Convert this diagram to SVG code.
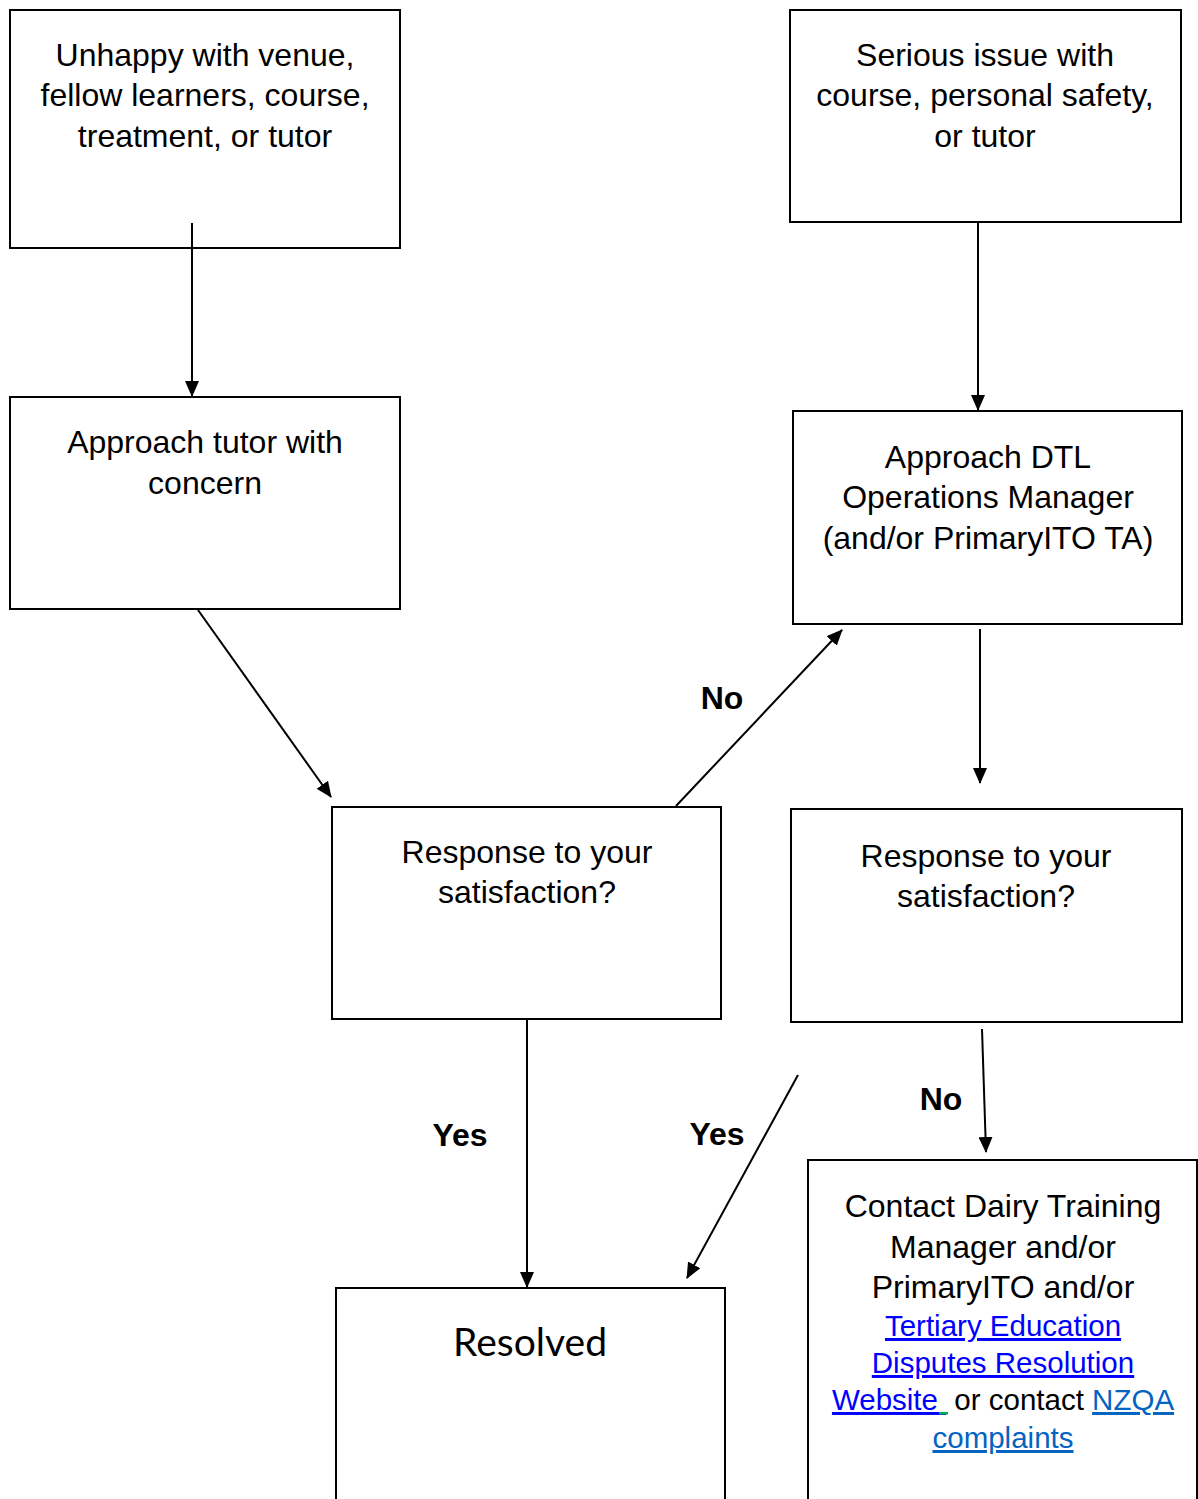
<svg xmlns="http://www.w3.org/2000/svg" width="1198" height="1499" viewBox="0 0 1198 1499">
<style>
.box{fill:#fff;stroke:#000;stroke-width:2}
.t{font-family:"Liberation Sans",Arial,sans-serif;font-size:32px;fill:#000;text-anchor:middle}
.s{font-size:29.5px}
.lbl{font-family:"Liberation Sans",Arial,sans-serif;font-size:32px;font-weight:bold;fill:#000;text-anchor:middle}
.ln{stroke:#000;stroke-width:2;fill:none;marker-end:url(#ah)}
.lk{fill:#0000ff;text-decoration:underline}
.lk2{fill:#0563c1;text-decoration:underline}
</style>
<defs>
<marker id="ah" markerUnits="userSpaceOnUse" markerWidth="16" markerHeight="14" refX="15" refY="7" orient="auto">
<path d="M0,0 L16,7 L0,14 z" fill="#000"/>
</marker>
</defs>
<rect width="1198" height="1499" fill="#fff"/>
<g id="n1"><rect class="box" x="10" y="10" width="390" height="238"/>
<text class="t"><tspan x="205" y="66">Unhappy with venue,</tspan><tspan x="205" y="106">fellow learners, course,</tspan><tspan x="205" y="147">treatment, or tutor</tspan></text></g>
<g id="n2"><rect class="box" x="790" y="10" width="391" height="212"/>
<text class="t"><tspan x="985" y="66">Serious issue with</tspan><tspan x="985" y="106">course, personal safety,</tspan><tspan x="985" y="147">or tutor</tspan></text></g>
<g id="n3"><rect class="box" x="10" y="397" width="390" height="212"/>
<text class="t"><tspan x="205" y="453">Approach tutor with</tspan><tspan x="205" y="494">concern</tspan></text></g>
<g id="n4"><rect class="box" x="793" y="411" width="389" height="213"/>
<text class="t"><tspan x="988" y="468">Approach DTL</tspan><tspan x="988" y="508">Operations Manager</tspan><tspan x="988" y="549">(and/or PrimaryITO TA)</tspan></text></g>
<g id="n5"><rect class="box" x="332" y="807" width="389" height="212"/>
<text class="t"><tspan x="527" y="863">Response to your</tspan><tspan x="527" y="903">satisfaction?</tspan></text></g>
<g id="n6"><rect class="box" x="791" y="809" width="391" height="213"/>
<text class="t"><tspan x="986" y="867">Response to your</tspan><tspan x="986" y="907">satisfaction?</tspan></text></g>
<g id="n7"><rect class="box" x="336" y="1288" width="389" height="230"/>
<text x="530" y="1356" style="font-family:Lato,'Open Sans',sans-serif;font-size:39px;text-anchor:middle;fill:#000">Resolved</text></g>
<g id="n8"><rect class="box" x="808" y="1160" width="389" height="360"/>
<text class="t" xml:space="preserve"><tspan x="1003" y="1217">Contact Dairy Training</tspan><tspan x="1003" y="1258">Manager and/or</tspan><tspan x="1003" y="1298">PrimaryITO and/or</tspan><tspan x="1003" y="1336" class="lk s">Tertiary Education</tspan><tspan x="1003" y="1373" class="lk s">Disputes Resolution</tspan><tspan x="1003" y="1410" class="s"><tspan class="lk">Website </tspan> or contact <tspan class="lk2">NZQA</tspan></tspan><tspan x="1003" y="1448" class="lk2 s">complaints</tspan></text>
<rect x="939" y="1412" width="9" height="2.5" fill="#00b050"/></g>
<g id="connectors">
<line class="ln" x1="192" y1="223" x2="192" y2="396"/>
<line class="ln" x1="198" y1="610" x2="331" y2="797"/>
<line class="ln" x1="676" y1="806" x2="842" y2="630"/>
<line class="ln" x1="978" y1="222" x2="978" y2="410"/>
<line class="ln" x1="980" y1="629" x2="980" y2="783"/>
<line class="ln" x1="527" y1="1020" x2="527" y2="1287"/>
<line class="ln" x1="798" y1="1075" x2="687" y2="1278"/>
<line class="ln" x1="982" y1="1029" x2="986" y2="1152"/>
<text class="lbl" x="722" y="709">No</text>
<text class="lbl" x="460" y="1146">Yes</text>
<text class="lbl" x="717" y="1145">Yes</text>
<text class="lbl" x="941" y="1110">No</text>
</g>
</svg>
